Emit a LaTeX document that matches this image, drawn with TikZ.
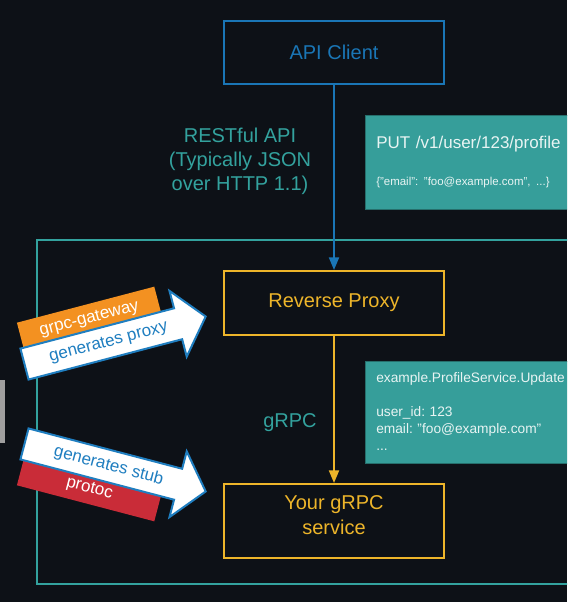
\documentclass[tikz,border=0pt]{standalone}
\usepackage{fontspec}
\setmainfont{Liberation Sans}
\usetikzlibrary{arrows.meta,shapes.arrows}
\definecolor{bg}{HTML}{0D1117}
\definecolor{clientblue}{HTML}{1A76B6}
\definecolor{proxygold}{HTML}{EDB52A}
\definecolor{frameteal}{HTML}{33A29E}
\definecolor{noteteal}{HTML}{369E9A}
\definecolor{notetext}{HTML}{E8F4F3}
\definecolor{gwyellow}{HTML}{F39121}
\definecolor{protocred}{HTML}{C92C38}
\definecolor{genblue}{HTML}{1F7EC0}
\tikzset{
	box/.style={draw, line width=1.5pt, minimum width=165pt, align=center,
		font=\fontsize{15}{18.5}\selectfont},
	clientbox/.style={box, draw=clientblue, text=clientblue, minimum height=47.25pt},
	goldbox/.style={box, draw=proxygold, text=proxygold},
	note/.style={fill=noteteal, draw=noteteal!70!black, anchor=west, align=left,
		text=notetext, text width=150pt, inner xsep=8.25pt, inner ysep=0pt},
	linklabel/.style={text=frameteal, align=center, font=\fontsize{15}{18}\selectfont},
	genarrow/.style={single arrow, draw=genblue, line width=1.5pt, fill=white,
		text=genblue, font=\fontsize{12.75}{14}\selectfont,
		minimum height=140.5pt, minimum width=49.5pt,
		single arrow head extend=13.5pt, single arrow tip angle=100,
		text height=9pt, text depth=2.5pt, inner ysep=5.5pt, inner xsep=2pt},
	tag/.style={minimum width=106.5pt, minimum height=22.5pt, inner sep=0pt,
		text=white, font=\fontsize{12.75}{14}\selectfont}
}
\begin{document}
\begin{tikzpicture}[x=0.75pt,y=-0.75pt]
	\useasboundingbox (0,0) rectangle (567,602);
	\fill[bg] (0,0) rectangle (567,602);
	\clip (0,0) rectangle (567,602);
	% frame round the proxy and the service
	\draw[frameteal, line width=1.5pt] (37,240) rectangle (640,584);
	\fill[gray!75] (0,380) rectangle (5,443);
	% boxes
	\node[clientbox] (client) at (334,52.5) {API Client};
	\node[goldbox, minimum height=48pt] (proxy) at (334,303) {Reverse Proxy};
	\node[goldbox, minimum height=55.5pt] (service) at (334,521) {Your gRPC\\service\rule[-9pt]{0pt}{9pt}};
	\draw[clientblue, line width=1.5pt, -{Triangle[length=9.5pt,width=7.5pt]}] (client) -- (proxy);
	\draw[proxygold, line width=1.5pt, -{Triangle[length=9.5pt,width=7.5pt]}] (proxy) -- (service);
	\node[linklabel] (restlabel) at (240,161.5) {RESTful API\\(Typically JSON\\over HTTP 1.1)};
	\node[linklabel] (grpclabel) at (290,423) {gRPC};
	% request notes
	\node[note, minimum height=70.5pt, font=\fontsize{12.75}{15.3}\selectfont\frenchspacing] (putnote) at (365,162)
	{PUT /v1/user/123/profile\\[12pt]{\fontsize{8.6}{10}\selectfont\{"email": "foo@example.com", ...\}}};
	\node[note, minimum height=76.5pt, font=\fontsize{10.3}{12.75}\selectfont\frenchspacing] (callnote) at (365,412)
	{example.ProfileService.Update\\[12.75pt]user\_id: 123\\email: "foo@example.com"\\...};
	% generators
	\node[tag, fill=gwyellow, rotate=14.7] (gwtag) at (89.4,319.2) {grpc-gateway};
	\node[tag, fill=protocred, rotate=-14.7] (protoctag) at (89.4,488.8) {protoc};
	\node[genarrow, rotate=14.7] (proxyarrow) at (108.6,342) {generates proxy};
	\node[genarrow, rotate=-14.7] (stubarrow) at (108.6,466) {generates stub};
\end{tikzpicture}
\end{document}
